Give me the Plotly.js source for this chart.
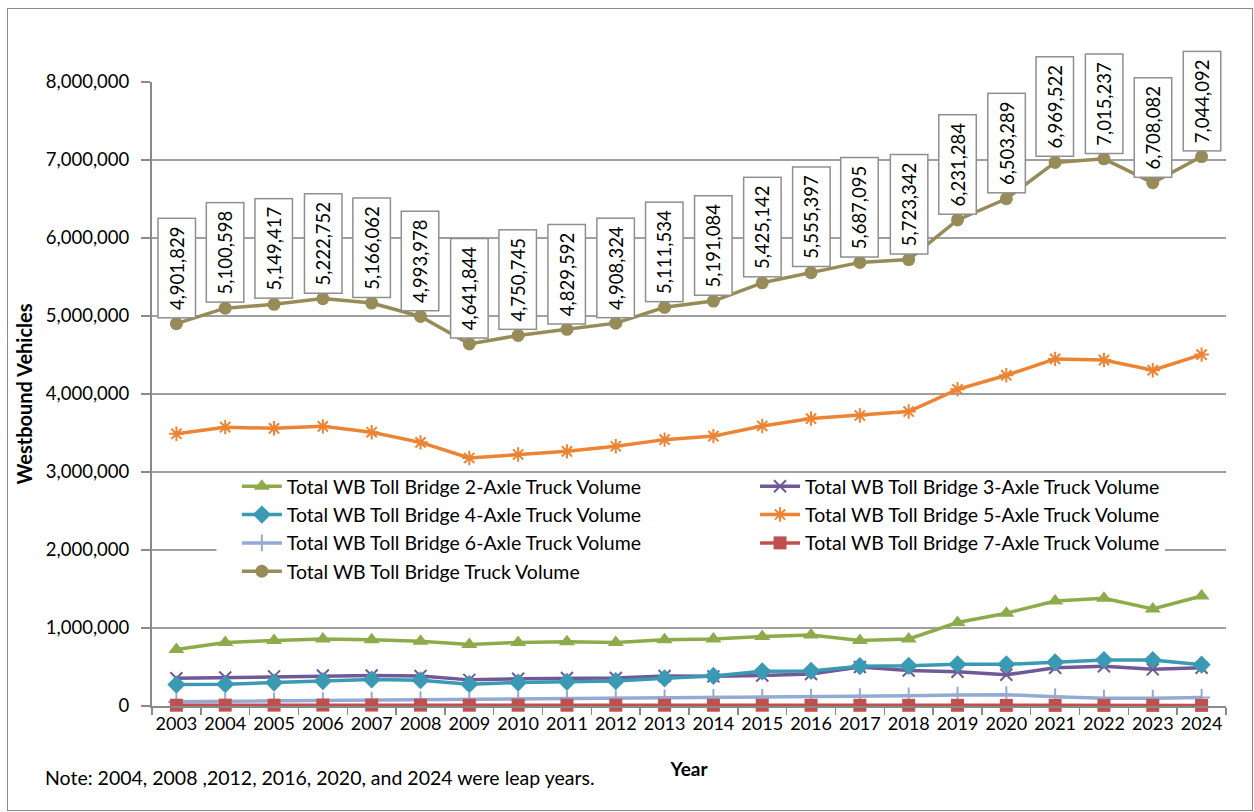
<!DOCTYPE html>
<html>
<head>
<meta charset="utf-8">
<script src="https://cdn.plot.ly/plotly-3.0.1.min.js"></script>
<style>
  html, body { margin: 0; padding: 0; background: #fff; }
  #chart { width: 1254px; height: 812px; }
  #frame { position: absolute; left: 7px; top: 8px; width: 1244px; height: 801px; border: 1px solid #8a8a8a; pointer-events: none; }
</style>
</head>
<body>
<div id="chart"></div>
<div id="frame"></div>
<script>
const years = ['2003','2004','2005','2006','2007','2008','2009','2010','2011','2012','2013','2014','2015','2016','2017','2018','2019','2020','2021','2022','2023','2024'];

const axle2 = [725000,815000,840000,860000,850000,830000,790000,815000,825000,815000,850000,860000,890000,910000,840000,860000,1070000,1190000,1345000,1380000,1245000,1410000];
const axle3 = [355000,365000,380000,390000,390000,385000,335000,350000,360000,360000,385000,380000,390000,410000,500000,455000,440000,400000,490000,510000,470000,490000];
const axle4 = [275000,280000,300000,320000,340000,330000,280000,300000,310000,320000,355000,385000,445000,450000,510000,515000,535000,535000,560000,590000,590000,530000];
const axle5 = [3490000,3575000,3560000,3585000,3510000,3380000,3180000,3225000,3265000,3330000,3415000,3460000,3590000,3685000,3725000,3775000,4060000,4240000,4450000,4435000,4305000,4505000];
const axle6 = [55000,60000,65000,70000,75000,80000,75000,80000,85000,95000,105000,110000,110000,115000,120000,130000,140000,145000,120000,100000,100000,110000];
const axle7 = [10000,11000,11000,12000,12000,11000,10000,10000,10000,10000,10000,10000,10000,9000,9000,9000,9000,8000,8000,8000,8000,8000];
const total = [4901829,5100598,5149417,5222752,5166062,4993978,4641844,4750745,4829592,4908324,5111534,5191084,5425142,5555397,5687095,5723342,6231284,6503289,6969522,7015237,6708082,7044092];

const seriesNames = [
  'Total WB Toll Bridge 2-Axle Truck Volume',
  'Total WB Toll Bridge 3-Axle Truck Volume',
  'Total WB Toll Bridge 4-Axle Truck Volume',
  'Total WB Toll Bridge 5-Axle Truck Volume',
  'Total WB Toll Bridge 6-Axle Truck Volume',
  'Total WB Toll Bridge 7-Axle Truck Volume',
  'Total WB Toll Bridge Truck Volume'
];
const noteText = 'Note: 2004, 2008 ,2012, 2016, 2020, and 2024 were leap years.';

const FONT = 'Lato, "Open Sans", sans-serif';

function tr(name, y, color, symbol, size, open, legendId) {
  const marker = { symbol: symbol, size: size, color: color };
  if (open) marker.line = { color: color, width: 2 };
  return {
    type: 'scatter', mode: 'lines+markers', name: name, x: years, y: y,
    line: { color: color, width: 3.5 }, marker: marker, cliponaxis: false,
    legend: legendId
  };
}

const data = [
  tr(seriesNames[0], axle2, '#8DAB4B', 'triangle-up', 14, false, 'legend'),
  tr(seriesNames[1], axle3, '#715896', 'x-thin-open', 12, true, 'legend2'),
  tr(seriesNames[2], axle4, '#3A9AB3', 'diamond', 14, false, 'legend'),
  tr(seriesNames[3], axle5, '#EC8434', 'asterisk-open', 12, true, 'legend2'),
  tr(seriesNames[4], axle6, '#93ABD3', 'cross-thin-open', 12, true, 'legend'),
  tr(seriesNames[5], axle7, '#C0504D', 'square', 13, false, 'legend2'),
  tr(seriesNames[6], total, '#978C57', 'circle', 13, false, 'legend')
];

const annotations = years.map((yr, i) => ({
  x: i, y: total[i], xref: 'x', yref: 'y',
  text: total[i].toLocaleString('en-US'),
  textangle: -90, showarrow: false,
  xanchor: 'center', yanchor: 'bottom', yshift: 5,
  bgcolor: '#ffffff', bordercolor: '#8f8f8f', borderwidth: 1.5, borderpad: 7,
  font: { family: FONT, size: 18.5, color: '#000' }
}));

annotations.push({
  xref: 'paper', yref: 'paper', x: -0.1015, y: -0.1138,
  xanchor: 'left', yanchor: 'middle', showarrow: false,
  text: noteText, font: { family: FONT, size: 19.5, color: '#000' }
});

const legendFont = { family: FONT, size: 19.5, color: '#000' };

const layout = {
  width: 1254, height: 812,
  margin: { l: 152, r: 28, t: 82, b: 106 },
  paper_bgcolor: '#ffffff', plot_bgcolor: '#ffffff',
  font: { family: FONT, size: 18, color: '#000' },
  showlegend: true,
  legend: {
    orientation: 'v', x: 0.079, y: 0.383, xanchor: 'left', yanchor: 'top',
    bgcolor: 'rgba(0,0,0,0)', font: legendFont, itemwidth: 40, tracegroupgap: 0
  },
  legend2: {
    orientation: 'v', x: 0.5615, y: 0.383, xanchor: 'left', yanchor: 'top',
    bgcolor: 'rgba(0,0,0,0)', font: legendFont, itemwidth: 40, tracegroupgap: 0
  },
  shapes: [{
    type: 'rect', xref: 'x', yref: 'y', layer: 'between',
    x0: 0.82, x1: 20.25, y0: 1490000, y1: 2950000,
    fillcolor: '#ffffff', line: { width: 0 }
  }],
  xaxis: {
    type: 'category', range: [-0.5, years.length - 0.5], autorange: false,
    tickson: 'boundaries', ticks: 'outside', ticklen: 7,
    tickcolor: '#8a8a8a', tickwidth: 1.5, tickangle: 0,
    showline: true, linecolor: '#8a8a8a', linewidth: 2,
    showgrid: false, zeroline: false,
    tickfont: { family: FONT, size: 18, color: '#000' },
    title: { text: '<b>Year</b>', font: { family: FONT, size: 19, color: '#000' }, standoff: 30 }
  },
  yaxis: {
    range: [0, 8000000], autorange: false, dtick: 1000000, tickformat: ',d',
    ticks: 'outside', ticklen: 9, tickcolor: '#8a8a8a', tickwidth: 1.5,
    ticklabelstandoff: 8,
    showline: true, linecolor: '#8a8a8a', linewidth: 2,
    showgrid: true, gridcolor: '#a0a0a0', gridwidth: 1.5, zeroline: false,
    tickfont: { family: FONT, size: 18.5, color: '#000' },
    title: { text: '<b>Westbound Vehicles</b>', font: { family: FONT, size: 20, color: '#000' }, standoff: 8 }
  },
  annotations: annotations
};

Plotly.newPlot('chart', data, layout, { displayModeBar: false, staticPlot: true });
</script>
</body>
</html>
